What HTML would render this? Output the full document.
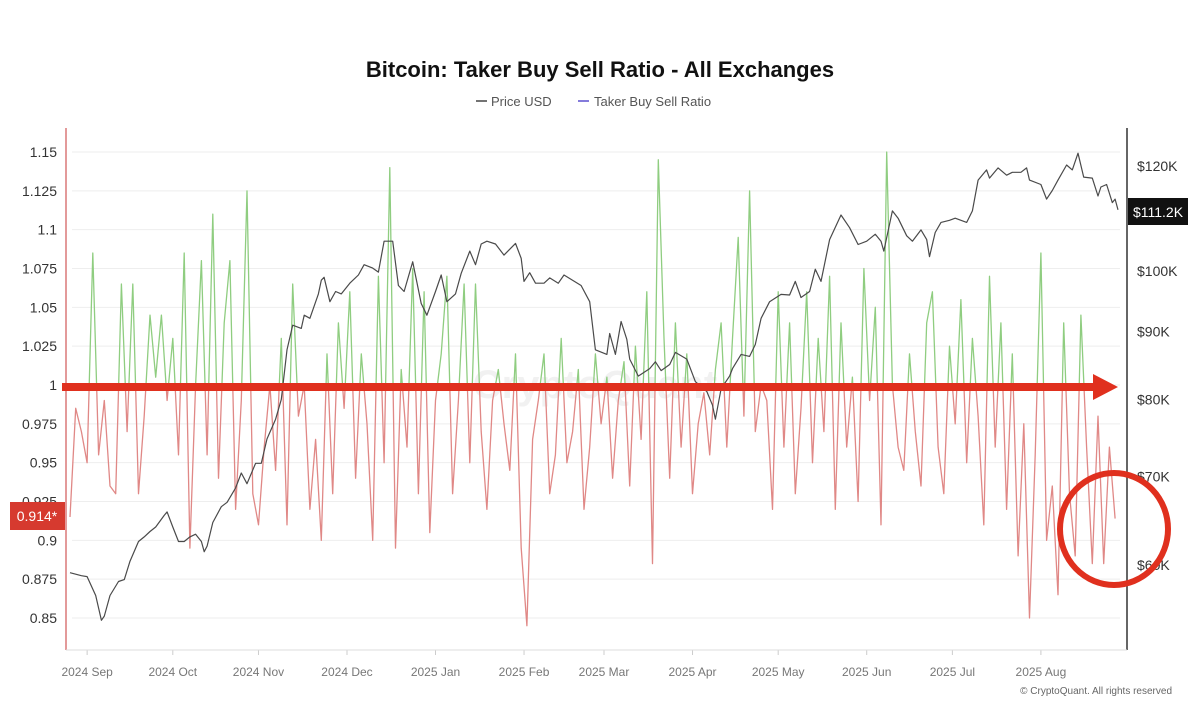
<!DOCTYPE html>
<html><head><meta charset="utf-8"><style>
body{margin:0;background:#fff;}
svg{display:block;font-family:"Liberation Sans",sans-serif;}
</style></head><body>
<svg id="chart" width="1200" height="712" viewBox="0 0 1200 712">
<rect width="1200" height="712" fill="#fff"/>
<text x="600" y="77" text-anchor="middle" font-size="22" font-weight="bold" fill="#111">Bitcoin: Taker Buy Sell Ratio - All Exchanges</text>
<g font-size="13" fill="#555">
<g><line x1="476" y1="101" x2="487" y2="101" stroke="#444" stroke-width="1.5"/><text x="491" y="106">Price USD</text></g>
<g><line x1="578" y1="101" x2="589" y2="101" stroke="#5a4fcf" stroke-width="1.5"/><text x="594" y="106">Taker Buy Sell Ratio</text></g>
</g>
<g id="grid"></g>
<g id="lticks" font-size="14" fill="#333" text-anchor="end"></g>
<g id="rticks" font-size="14" fill="#333"></g>
<g id="xticks" font-size="12" fill="#777" text-anchor="middle"></g>
<text x="595" y="398" text-anchor="middle" font-size="40" font-weight="bold" fill="#000" opacity="0.05">CryptoQuant</text>
<defs>
<clipPath id="above"><rect id="clipA" x="60" y="120" width="1070" height="265"/></clipPath>
<clipPath id="below"><rect id="clipB" x="60" y="385" width="1070" height="280"/></clipPath>
</defs>
<g id="series"></g>
<line x1="66" y1="128" x2="66" y2="650" stroke="#e39a9a" stroke-width="2"/>
<line x1="1127" y1="128" x2="1127" y2="650" stroke="#333" stroke-width="1.5"/>
<line x1="66" y1="650" x2="1127" y2="650" stroke="#ddd" stroke-width="1"/>
<g>
<rect x="62" y="383" width="1036" height="8" fill="#e0301e"/>
<polygon points="1093,374 1118,387 1093,400" fill="#e0301e"/>
</g>
<ellipse cx="1114" cy="529" rx="54" ry="56" fill="none" stroke="#e0301e" stroke-width="6"/>
<g><rect x="10" y="502" width="55" height="28" fill="#d63a2f"/><text x="37" y="521" text-anchor="middle" font-size="14" fill="#fff">0.914*</text></g>
<g><rect x="1128" y="198" width="60" height="27" fill="#111"/><text x="1158" y="217" text-anchor="middle" font-size="14" fill="#fff">$111.2K</text></g>
<text x="1172" y="694" text-anchor="end" font-size="10" fill="#666">© CryptoQuant. All rights reserved</text>
</svg>
<script>
const ratioTicks=[0.85,0.875,0.9,0.925,0.95,0.975,1,1.025,1.05,1.075,1.1,1.125,1.15];
const priceTicks=[60,70,80,90,100,120];
const monthLabels=["2024 Sep","2024 Oct","2024 Nov","2024 Dec","2025 Jan","2025 Feb","2025 Mar","2025 Apr","2025 May","2025 Jun","2025 Jul","2025 Aug"];
const monthDays=[6,36,66,97,128,159,187,218,248,279,309,340];
const ratioValues=[0.915,0.985,0.97,0.95,1.085,0.955,0.99,0.935,0.93,1.065,
0.97,1.065,0.93,0.98,1.045,1.005,1.045,0.99,1.03,0.955,
1.085,0.895,1.0,1.08,0.955,1.11,0.94,1.04,1.08,0.92,
0.99,1.125,0.93,0.91,0.96,1.0,0.945,1.03,0.91,1.065,
0.98,1.0,0.92,0.965,0.9,1.02,0.93,1.04,0.985,1.06,
0.94,1.02,0.975,0.9,1.07,0.95,1.14,0.895,1.01,0.96,
1.075,0.93,1.06,0.905,0.99,1.02,1.07,0.93,0.99,1.065,
0.95,1.065,0.97,0.92,0.99,1.01,0.975,0.945,1.02,0.895,
0.845,0.965,0.99,1.02,0.93,0.955,1.03,0.95,0.97,1.01,
0.92,0.96,1.02,0.975,1.005,0.94,0.99,1.015,0.935,1.025,
0.965,1.06,0.885,1.145,1.03,0.94,1.04,0.96,1.02,0.93,
0.975,0.995,0.955,1.01,1.04,0.96,1.03,1.095,0.98,1.125,
0.97,1.0,0.99,0.92,1.06,0.96,1.04,0.93,0.985,1.06,
0.95,1.03,0.97,1.07,0.92,1.04,0.96,1.005,0.925,1.075,
0.99,1.05,0.91,1.15,1.0,0.96,0.945,1.02,0.97,0.935,
1.04,1.06,0.96,0.93,1.025,0.975,1.055,0.95,1.03,0.98,
0.91,1.07,0.96,1.04,0.92,1.02,0.89,0.975,0.85,0.955,
1.085,0.9,0.935,0.865,1.04,0.93,0.89,1.045,0.96,0.885,
0.98,0.885,0.96,0.914];
const priceDays=[0,4,6,9,11,12,14,17,19,21,24,26,28,30,33,34,36,38,40,42,44,46,47,48,50,53,55,58,60,62,65,67,69,72,74,76,78,81,82,84,87,88,89,91,93,95,98,101,103,106,108,110,113,115,117,120,123,125,128,130,132,135,137,140,142,144,146,149,152,156,158,159,161,163,166,168,171,173,179,182,184,188,189,191,193,195,196,199,203,205,207,210,212,216,219,223,225,226,228,231,232,235,238,240,242,245,249,252,254,256,259,261,263,266,270,273,276,279,282,284,285,288,290,293,295,298,300,301,303,305,308,310,314,316,318,321,322,325,328,330,333,335,336,340,342,344,346,349,351,353,355,358,360,361,363,365,366,367];
const priceK=[59.2,58.9,58.8,56.9,54.5,54.9,56.9,58.3,58.5,60.4,62.5,63.0,63.6,64.1,65.4,65.8,64.1,62.5,62.5,63.0,63.3,62.5,61.4,62.0,64.6,66.4,66.9,68.6,70.4,69.1,71.6,71.6,74.7,77.3,80.0,87.2,91.0,90.5,92.6,92.1,96.1,98.4,98.9,94.8,96.5,96.1,97.9,99.3,101.1,100.5,99.8,105.3,105.3,97.5,96.5,101.6,94.5,92.6,96.5,99.3,94.8,96.1,99.6,103.5,101.1,104.8,105.3,104.8,102.8,104.9,102.2,98.2,99.7,97.9,97.9,98.8,97.9,99.3,97.5,94.8,87.2,86.5,89.7,86.5,91.6,88.8,85.8,83.3,84.4,85.4,84.1,85.0,86.8,85.8,82.5,81.1,79.2,77.3,81.5,83.3,84.4,86.5,86.2,88.0,92.1,94.8,96.0,95.9,98.2,95.5,96.5,100.3,98.2,105.6,110.2,107.8,104.7,105.3,106.6,105.3,103.5,111.0,109.6,106.3,105.3,107.4,105.6,102.5,106.9,108.8,109.2,109.6,108.8,111.0,117.1,119.2,117.5,119.6,118.1,118.7,118.7,119.6,117.1,116.2,113.3,115.0,117.1,120.2,119.2,122.7,117.7,117.5,113.9,115.7,116.2,112.6,113.3,111.2];

const NS="http://www.w3.org/2000/svg";
const X0=70,X1=1118,DMAX=367;
const xScale=d=>X0+(d/DMAX)*(X1-X0);
const yRatio=v=>385-(v-1)/0.025*38.83;
const yPrice=p=>166+Math.log2(120/p)*399;
function mk(tag,attrs,parent){const e=document.createElementNS(NS,tag);for(const k in attrs)e.setAttribute(k,attrs[k]);parent.appendChild(e);return e;}
const grid=document.getElementById('grid'),lt=document.getElementById('lticks'),rt=document.getElementById('rticks'),xt=document.getElementById('xticks'),ser=document.getElementById('series');
ratioTicks.forEach(v=>{
  const y=yRatio(v);
  const g=mk('line',{x1:72,x2:1120,y1:y,y2:y,stroke:'#eeeeee','stroke-width':1},grid);
  
  
  const t=mk('text',{x:57,y:y+5},lt);t.textContent=String(v);
  
  
});
priceTicks.forEach(p=>{
  const t=mk('text',{x:1137,y:yPrice(p)+5},rt);t.textContent='$'+p+'K';
  
  
});
monthLabels.forEach((m,i)=>{
  const x=xScale(monthDays[i]);
  mk('line',{x1:x,x2:x,y1:650,y2:655,stroke:'#ccc'},xt);
  const t=mk('text',{x:x,y:676},xt);t.textContent=m;
  
  
});
const yOne=yRatio(1);
document.getElementById('clipA').setAttribute('height',yOne-120);
document.getElementById('clipB').setAttribute('y',yOne);
const rpts=ratioValues.map((v,i)=>xScale(i*2).toFixed(1)+','+yRatio(v).toFixed(1)).join(' ');
const gl=mk('polyline',{points:rpts,fill:'none',stroke:'#8fcd80','stroke-width':1.3,'clip-path':'url(#above)','stroke-linejoin':'round'},ser);


const rl=mk('polyline',{points:rpts,fill:'none',stroke:'#e08886','stroke-width':1.3,'clip-path':'url(#below)','stroke-linejoin':'round'},ser);


const ppts=priceK.map((p,i)=>xScale(priceDays[i]).toFixed(1)+','+yPrice(p).toFixed(1)).join(' ');
const pl=mk('polyline',{points:ppts,fill:'none',stroke:'#4a4a4a','stroke-width':1.2,'stroke-linejoin':'round'},ser);


</script>
</body></html>
